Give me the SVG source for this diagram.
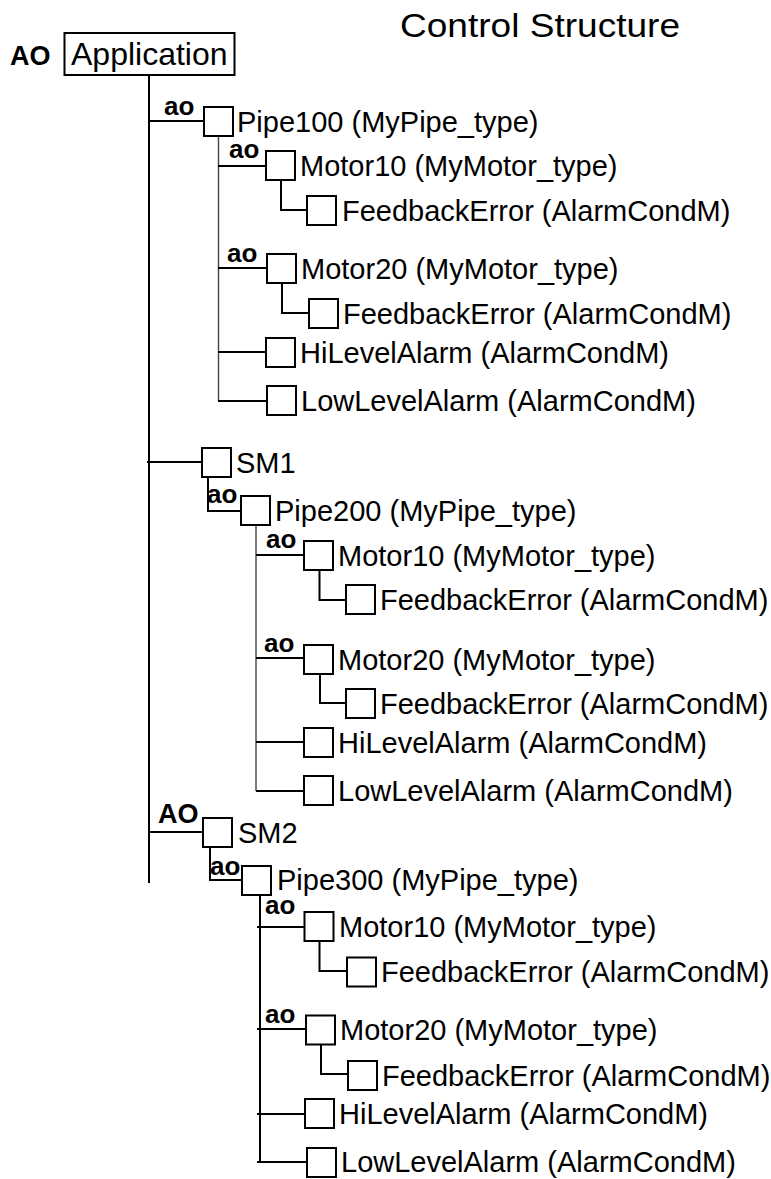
<svg xmlns="http://www.w3.org/2000/svg" width="771" height="1179" viewBox="0 0 771 1179">
<style>
.t{font-family:"Liberation Sans",Arial,Helvetica,sans-serif;font-size:29px;fill:#000}
.b{font-family:"Liberation Sans",Arial,Helvetica,sans-serif;font-size:27px;font-weight:bold;fill:#000}
.a{font-family:"Liberation Sans",Arial,Helvetica,sans-serif;font-size:26px;font-weight:bold;fill:#000}
.bx{fill:#fff;stroke:#000;stroke-width:2}
.ln{fill:none;stroke:#000;stroke-width:2}
.thin{fill:none;stroke:#444;stroke-width:1.4}
</style>
<rect width="771" height="1179" fill="#fff"/>
<text class="t" x="400" y="37" style="font-size:34px" textLength="280" lengthAdjust="spacingAndGlyphs">Control Structure</text>

<g id="connectors">
<line class="ln" x1="149" y1="75" x2="149" y2="883"/>
<!-- Pipe100 -->
<line class="ln" x1="149" y1="121" x2="204" y2="121"/>
<line class="thin" x1="218.5" y1="136" x2="218.5" y2="401"/>
<line class="ln" x1="218" y1="166" x2="266" y2="166"/>
<polyline class="ln" points="281,180 281,210 307,210"/>
<line class="ln" x1="218" y1="268" x2="267" y2="268"/>
<polyline class="ln" points="282,283 282,313 309,313"/>
<line class="ln" x1="218" y1="352" x2="266" y2="352"/>
<line class="ln" x1="218" y1="401" x2="267" y2="401"/>
<!-- SM1 -->
<line class="ln" x1="147" y1="462" x2="202" y2="462"/>
<polyline class="ln" points="208,477 208,511 244,511"/>
<line class="thin" x1="256" y1="525" x2="256" y2="791"/>
<line class="ln" x1="256" y1="555" x2="304" y2="555"/>
<polyline class="ln" points="319.5,570 319.5,600 346,600"/>
<line class="ln" x1="256" y1="658" x2="304" y2="658"/>
<polyline class="ln" points="320,674 320,703 346,703"/>
<line class="ln" x1="256" y1="742" x2="304" y2="742"/>
<line class="ln" x1="256" y1="791" x2="304" y2="791"/>
<!-- SM2 -->
<line class="ln" x1="148" y1="832" x2="203" y2="832"/>
<polyline class="ln" points="210,847 210,880 246,880"/>
<line class="ln" x1="260" y1="892" x2="260" y2="1162"/>
<line class="ln" x1="257" y1="927" x2="304" y2="927"/>
<polyline class="ln" points="319.5,941 319.5,971 347,971"/>
<line class="ln" x1="257" y1="1029" x2="306" y2="1029"/>
<polyline class="ln" points="321,1044 321,1074 348,1074"/>
<line class="ln" x1="257" y1="1114" x2="305" y2="1114"/>
<line class="ln" x1="257" y1="1162" x2="307" y2="1162"/>
</g>

<g id="application">
<text class="b" x="10" y="65">AO</text>
<rect class="bx" x="64.5" y="33" width="170" height="42"/>
<text class="t" x="71" y="65" style="font-size:32px">Application</text>
</g>

<g id="pipe100">
<text class="a" x="164" y="115">ao</text>
<rect class="bx" x="204" y="107" width="29" height="29"/>
<text class="t" x="237" y="132">Pipe100 (MyPipe_type)</text>
</g>
<g id="pipe100-motor10">
<text class="a" x="229" y="158">ao</text>
<rect class="bx" x="266" y="151" width="29" height="29"/>
<text class="t" x="300" y="176">Motor10 (MyMotor_type)</text>
</g>
<g id="pipe100-motor10-fb">
<rect class="bx" x="307" y="196" width="29" height="29"/>
<text class="t" x="342" y="221">FeedbackError (AlarmCondM)</text>
</g>
<g id="pipe100-motor20">
<text class="a" x="227" y="262">ao</text>
<rect class="bx" x="267" y="254" width="29" height="29"/>
<text class="t" x="301" y="279">Motor20 (MyMotor_type)</text>
</g>
<g id="pipe100-motor20-fb">
<rect class="bx" x="309" y="299" width="29" height="29"/>
<text class="t" x="343" y="324">FeedbackError (AlarmCondM)</text>
</g>
<g id="pipe100-hi">
<rect class="bx" x="266" y="338" width="29" height="29"/>
<text class="t" x="300" y="363">HiLevelAlarm (AlarmCondM)</text>
</g>
<g id="pipe100-low">
<rect class="bx" x="267" y="386" width="29" height="29"/>
<text class="t" x="301" y="411">LowLevelAlarm (AlarmCondM)</text>
</g>

<g id="sm1">
<rect class="bx" x="202" y="448" width="29" height="29"/>
<text class="t" x="236" y="473">SM1</text>
</g>
<g id="pipe200">
<text class="a" x="207" y="503">ao</text>
<rect class="bx" x="241" y="496" width="29" height="29"/>
<text class="t" x="275" y="521">Pipe200 (MyPipe_type)</text>
</g>
<g id="pipe200-motor10">
<text class="a" x="266" y="548">ao</text>
<rect class="bx" x="304" y="541" width="29" height="29"/>
<text class="t" x="338" y="566">Motor10 (MyMotor_type)</text>
</g>
<g id="pipe200-motor10-fb">
<rect class="bx" x="346" y="585" width="29" height="29"/>
<text class="t" x="380" y="610">FeedbackError (AlarmCondM)</text>
</g>
<g id="pipe200-motor20">
<text class="a" x="264" y="652">ao</text>
<rect class="bx" x="304" y="645" width="29" height="29"/>
<text class="t" x="338" y="670">Motor20 (MyMotor_type)</text>
</g>
<g id="pipe200-motor20-fb">
<rect class="bx" x="346" y="689" width="29" height="29"/>
<text class="t" x="380" y="714">FeedbackError (AlarmCondM)</text>
</g>
<g id="pipe200-hi">
<rect class="bx" x="304" y="728" width="29" height="29"/>
<text class="t" x="338" y="753">HiLevelAlarm (AlarmCondM)</text>
</g>
<g id="pipe200-low">
<rect class="bx" x="304" y="776" width="29" height="29"/>
<text class="t" x="338" y="801">LowLevelAlarm (AlarmCondM)</text>
</g>

<g id="sm2">
<text class="b" x="158" y="823">AO</text>
<rect class="bx" x="203" y="818" width="29" height="29"/>
<text class="t" x="238" y="843">SM2</text>
</g>
<g id="pipe300">
<text class="a" x="210" y="875">ao</text>
<rect class="bx" x="242" y="866" width="29" height="29"/>
<text class="t" x="277" y="890">Pipe300 (MyPipe_type)</text>
</g>
<g id="pipe300-motor10">
<text class="a" x="265" y="914">ao</text>
<rect class="bx" x="304.5" y="912" width="29" height="29"/>
<text class="t" x="339" y="937">Motor10 (MyMotor_type)</text>
</g>
<g id="pipe300-motor10-fb">
<rect class="bx" x="347" y="957.5" width="29" height="29"/>
<text class="t" x="381" y="982">FeedbackError (AlarmCondM)</text>
</g>
<g id="pipe300-motor20">
<text class="a" x="265" y="1023">ao</text>
<rect class="bx" x="306" y="1015.5" width="29" height="29"/>
<text class="t" x="340" y="1040">Motor20 (MyMotor_type)</text>
</g>
<g id="pipe300-motor20-fb">
<rect class="bx" x="348" y="1061" width="29" height="29"/>
<text class="t" x="382" y="1086">FeedbackError (AlarmCondM)</text>
</g>
<g id="pipe300-hi">
<rect class="bx" x="305" y="1099" width="29" height="29"/>
<text class="t" x="339" y="1124">HiLevelAlarm (AlarmCondM)</text>
</g>
<g id="pipe300-low">
<rect class="bx" x="307" y="1148" width="29" height="29"/>
<text class="t" x="341" y="1172">LowLevelAlarm (AlarmCondM)</text>
</g>
</svg>
